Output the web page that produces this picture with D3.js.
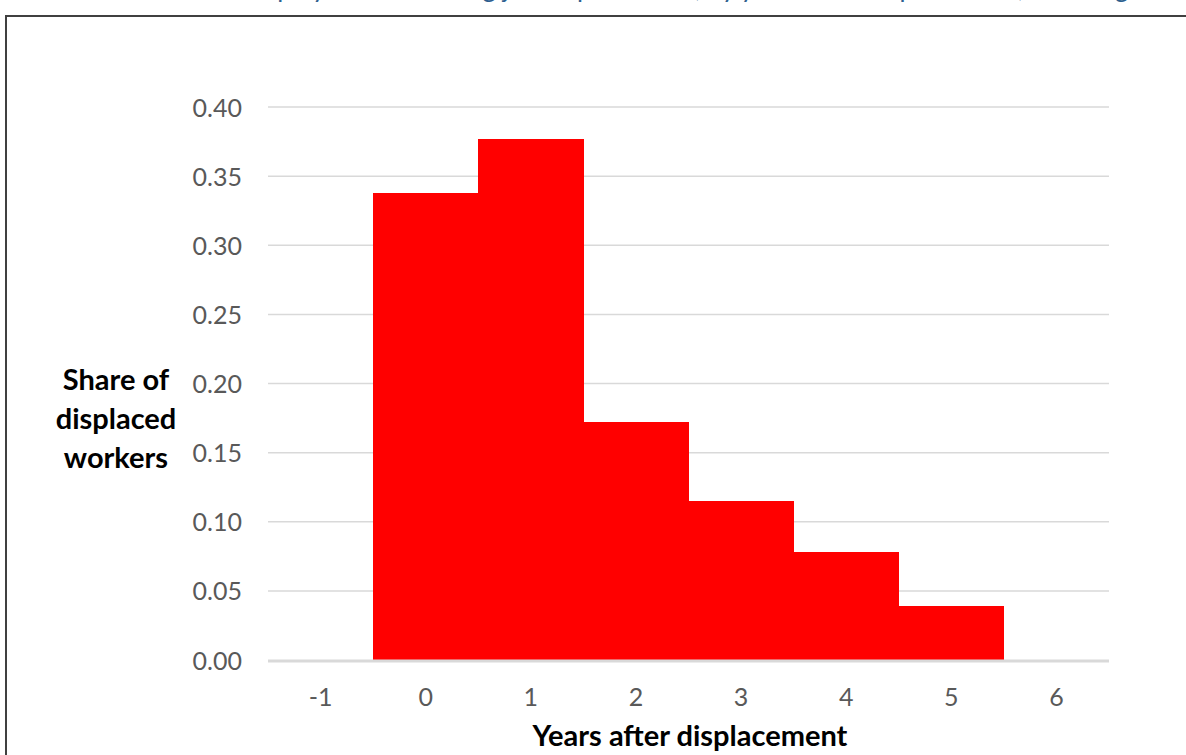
<!DOCTYPE html>
<html>
<head>
<meta charset="utf-8">
<script src="https://cdn.jsdelivr.net/npm/d3@7"></script>
<style>
  body { margin: 0; background: #fff; }
  svg { display: block; }
  .tick text { font-family: Lato, "Open Sans", sans-serif; font-size: 25px; fill: #595959; }
  .label { font-family: Lato, "Open Sans", sans-serif; font-weight: bold; font-size: 29px; fill: #000; }
</style>
</head>
<body>
<div id="chart"></div>
<script>
// data
const years = ["-1", "0", "1", "2", "3", "4", "5", "6"];
const shares = [0, 0.338, 0.377, 0.172, 0.115, 0.078, 0.039, 0];
const yTicks = [0, 0.05, 0.10, 0.15, 0.20, 0.25, 0.30, 0.35, 0.40];

const W = 1186, H = 755;
const margin = {top: 107, right: 77, bottom: 95, left: 268};
const width = W - margin.left - margin.right;
const height = H - margin.top - margin.bottom;

const svg = d3.select("#chart").append("svg")
  .attr("width", W)
  .attr("height", H);

// title, mostly cut off above the picture (as in the reference)
svg.append("text")
  .attr("x", 690)
  .attr("y", -3)
  .attr("text-anchor", "middle")
  .style("font-family", "Lato, 'Open Sans', sans-serif")
  .style("font-size", "26px")
  .style("fill", "#2e5f8f")
  .text("Reemployment following job displacement, by years after displacement, Washington");

// outer frame
svg.append("rect")
  .attr("x", 6).attr("y", 16)
  .attr("width", W + 20).attr("height", H + 20)
  .attr("fill", "none")
  .attr("stroke", "#404040")
  .attr("stroke-width", 2);

const g = svg.append("g")
  .attr("transform", "translate(" + margin.left + "," + margin.top + ")");

const x = d3.scaleBand()
  .domain(years)
  .range([0, width])
  .padding(0);

const y = d3.scaleLinear()
  .domain([0, 0.40])
  .range([height, 0]);

// gridlines
g.append("g")
  .selectAll("line")
  .data(yTicks.slice(1))
  .join("line")
    .attr("x1", 0).attr("x2", width)
    .attr("y1", d => y(d)).attr("y2", d => y(d))
    .attr("stroke", "#d9d9d9")
    .attr("stroke-width", 1.5);

// y axis labels
const yAxis = d3.axisLeft(y).tickValues(yTicks).tickFormat(d3.format(".2f")).tickSize(0).tickPadding(26);
g.append("g").attr("class", "axis y-axis").call(yAxis)
  .call(s => s.select(".domain").remove())
  .selectAll("text").attr("dy", "0.36em");

// bars
g.append("g")
  .attr("shape-rendering", "crispEdges")
  .selectAll("rect")
  .data(years.map((d, i) => ({year: d, value: shares[i]})))
  .join("rect")
    .attr("x", d => x(d.year))
    .attr("y", d => y(d.value))
    .attr("width", x.bandwidth() + 0.5)
    .attr("height", d => height - y(d.value))
    .attr("fill", "#ff0000");

// baseline
g.append("line")
  .attr("x1", 0).attr("x2", width)
  .attr("y1", height + 1).attr("y2", height + 1)
  .attr("stroke", "#d9d9d9")
  .attr("stroke-width", 3);

// x axis labels
const xAxis = d3.axisBottom(x).tickSize(0).tickPadding(28);
g.append("g").attr("class", "axis x-axis")
  .attr("transform", "translate(0," + height + ")")
  .call(xAxis)
  .call(s => s.select(".domain").remove());

// axis titles
svg.append("text")
  .attr("class", "label")
  .attr("x", 690).attr("y", 746)
  .attr("text-anchor", "middle")
  .text("Years after displacement");

svg.append("text")
  .attr("class", "label")
  .attr("text-anchor", "middle")
  .selectAll("tspan")
  .data(["Share of", "displaced", "workers"])
  .join("tspan")
    .attr("x", 116)
    .attr("y", (d, i) => 390 + i * 39)
    .text(d => d);
</script>
</body>
</html>
